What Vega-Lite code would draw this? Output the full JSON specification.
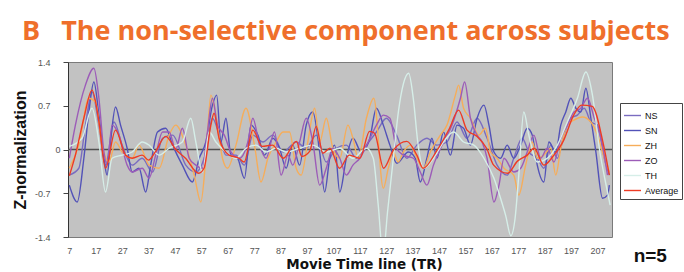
{
"$schema":"https://vega.github.io/schema/vega-lite/v6.json",
"width":544,"height":175,
"autosize":{"type":"none"},
"padding":{"left":68,"top":62,"right":72,"bottom":35},
"background":"white",
"config":{"view":{"fill":"#c2c2c2","stroke":"#7a7a7a","strokeWidth":1},"axisX":{"labelOverlap":false,"labelFlush":false,"labelBound":false,"labelSeparation":0}},
"title":{"text":"B\u00a0\u00a0\u00a0The non-selective component across subjects","anchor":"start","frame":"group","dx":-46,"offset":12,"font":"Open Sans","fontSize":27,"fontWeight":"bold","color":"#ef6f2b"},
"layer":[
{"data":{"values":[{"ref":0}]},"mark":{"type":"rule","color":"#505050","strokeWidth":1.3},"encoding":{"y":{"field":"ref","type":"quantitative","scale":{"domain":[-1.4,1.4],"nice":false,"zero":false},"axis":{"values":[-1.4,-0.7,0,0.7,1.4],"labelExpr":"toString(datum.value)","title":"Z-normalization","titleFont":"Liberation Sans","titleFontSize":16,"titleFontWeight":"bold","titleColor":"#111","titleX":-40,"titleY":87.5,"titleBaseline":"bottom","titleAngle":-90,"labelFont":"Liberation Sans","labelFontSize":9,"labelColor":"#555","labelPadding":{"condition":{"test":"datum.value === 0","value":3},"value":13},"tickSize":5,"tickColor":"#444","domainColor":"#333","grid":false}}}},
{"data":{"values":[
{"t":7,"s":"NS","v":-0.41},{"t":10.6,"s":"NS","v":-0.3},{"t":13.1,"s":"NS","v":0.39},{"t":15.6,"s":"NS","v":0.92},{"t":18.2,"s":"NS","v":0.39},{"t":20.7,"s":"NS","v":-0.25},{"t":23.9,"s":"NS","v":0.44},{"t":27,"s":"NS","v":0.07},{"t":30.8,"s":"NS","v":-0.25},{"t":34.6,"s":"NS","v":-0.14},{"t":38.5,"s":"NS","v":-0.36},{"t":42.3,"s":"NS","v":0.18},{"t":46.1,"s":"NS","v":0.23},{"t":51.1,"s":"NS","v":-0.25},{"t":54.9,"s":"NS","v":-0.36},{"t":58.7,"s":"NS","v":-0.04},{"t":61.2,"s":"NS","v":0.5},{"t":63.8,"s":"NS","v":0.23},{"t":66.3,"s":"NS","v":-0.09},{"t":70.1,"s":"NS","v":-0.09},{"t":73.3,"s":"NS","v":-0.25},{"t":76.5,"s":"NS","v":0.23},{"t":80.3,"s":"NS","v":0.12},{"t":84.1,"s":"NS","v":0.23},{"t":87.9,"s":"NS","v":-0.04},{"t":92.9,"s":"NS","v":0.12},{"t":96.7,"s":"NS","v":0.02},{"t":100.5,"s":"NS","v":0.23},{"t":104.3,"s":"NS","v":-0.2},{"t":108.1,"s":"NS","v":0.02},{"t":111.9,"s":"NS","v":0.07},{"t":115.7,"s":"NS","v":-0.14},{"t":119.5,"s":"NS","v":0.07},{"t":123.3,"s":"NS","v":0.28},{"t":127.1,"s":"NS","v":0.5},{"t":130.9,"s":"NS","v":0.23},{"t":134.8,"s":"NS","v":-0.14},{"t":138.6,"s":"NS","v":0.07},{"t":142.4,"s":"NS","v":0.18},{"t":146.2,"s":"NS","v":0.07},{"t":150,"s":"NS","v":0.12},{"t":153.8,"s":"NS","v":0.44},{"t":157.6,"s":"NS","v":0.18},{"t":161.4,"s":"NS","v":0.5},{"t":165.2,"s":"NS","v":0.18},{"t":169,"s":"NS","v":-0.25},{"t":172.8,"s":"NS","v":-0.41},{"t":175.3,"s":"NS","v":-0.14},{"t":178.5,"s":"NS","v":0.18},{"t":181,"s":"NS","v":-0.04},{"t":184.2,"s":"NS","v":-0.14},{"t":186.7,"s":"NS","v":-0.3},{"t":189.3,"s":"NS","v":0.07},{"t":191.8,"s":"NS","v":-0.14},{"t":194.3,"s":"NS","v":0.23},{"t":196.9,"s":"NS","v":0.5},{"t":199.4,"s":"NS","v":0.55},{"t":202,"s":"NS","v":0.66},{"t":204.5,"s":"NS","v":0.44},{"t":207,"s":"NS","v":0.39},{"t":209.6,"s":"NS","v":-0.14},{"t":211.5,"s":"NS","v":-0.41},
{"t":7,"s":"SN","v":-0.57},{"t":10,"s":"SN","v":-0.84},{"t":12.5,"s":"SN","v":-0.14},{"t":14.4,"s":"SN","v":0.6},{"t":16.3,"s":"SN","v":1.08},{"t":18.2,"s":"SN","v":0.55},{"t":20.1,"s":"SN","v":-0.14},{"t":21.3,"s":"SN","v":-0.41},{"t":22.6,"s":"SN","v":0.12},{"t":24.5,"s":"SN","v":0.68},{"t":26.4,"s":"SN","v":0.39},{"t":28.9,"s":"SN","v":0.02},{"t":30.8,"s":"SN","v":-0.36},{"t":33.4,"s":"SN","v":-0.3},{"t":35.9,"s":"SN","v":-0.68},{"t":37.8,"s":"SN","v":-0.25},{"t":40.4,"s":"SN","v":0.28},{"t":43.5,"s":"SN","v":0.34},{"t":46.1,"s":"SN","v":0.07},{"t":49.8,"s":"SN","v":-0.25},{"t":53.6,"s":"SN","v":-0.52},{"t":56.2,"s":"SN","v":-0.14},{"t":58.7,"s":"SN","v":0.12},{"t":61.2,"s":"SN","v":0.71},{"t":62.8,"s":"SN","v":0.87},{"t":64.4,"s":"SN","v":0.12},{"t":66.3,"s":"SN","v":0.5},{"t":68.2,"s":"SN","v":-0.09},{"t":70.7,"s":"SN","v":-0.14},{"t":73.3,"s":"SN","v":-0.46},{"t":75.8,"s":"SN","v":0.39},{"t":78.4,"s":"SN","v":0.23},{"t":80.9,"s":"SN","v":-0.09},{"t":84.1,"s":"SN","v":0.18},{"t":86.6,"s":"SN","v":0.02},{"t":89.1,"s":"SN","v":-0.3},{"t":91.6,"s":"SN","v":0.07},{"t":94.2,"s":"SN","v":-0.25},{"t":96.7,"s":"SN","v":0.39},{"t":99.2,"s":"SN","v":0.6},{"t":101.8,"s":"SN","v":-0.04},{"t":103.7,"s":"SN","v":-0.68},{"t":105.6,"s":"SN","v":-0.14},{"t":107.5,"s":"SN","v":0.07},{"t":109.4,"s":"SN","v":-0.68},{"t":111.9,"s":"SN","v":-0.14},{"t":114.4,"s":"SN","v":0.18},{"t":117.6,"s":"SN","v":-0.04},{"t":120.8,"s":"SN","v":0.18},{"t":123.3,"s":"SN","v":0.66},{"t":125.9,"s":"SN","v":0.39},{"t":128.4,"s":"SN","v":0.07},{"t":131,"s":"SN","v":-0.22},{"t":135.4,"s":"SN","v":-0.04},{"t":138,"s":"SN","v":-0.14},{"t":139.9,"s":"SN","v":-0.52},{"t":142.4,"s":"SN","v":-0.14},{"t":144.3,"s":"SN","v":0.18},{"t":146.2,"s":"SN","v":-0.14},{"t":148.7,"s":"SN","v":0.28},{"t":151.3,"s":"SN","v":-0.09},{"t":153.8,"s":"SN","v":0.39},{"t":156.3,"s":"SN","v":0.34},{"t":158.9,"s":"SN","v":0.07},{"t":161.4,"s":"SN","v":0.5},{"t":164,"s":"SN","v":0.71},{"t":165.9,"s":"SN","v":0.39},{"t":167.8,"s":"SN","v":-0.04},{"t":170.3,"s":"SN","v":-0.14},{"t":172.8,"s":"SN","v":0.07},{"t":175.3,"s":"SN","v":-0.14},{"t":177.9,"s":"SN","v":0.07},{"t":180.4,"s":"SN","v":0.34},{"t":182.3,"s":"SN","v":0.23},{"t":184.2,"s":"SN","v":-0.25},{"t":186.7,"s":"SN","v":-0.52},{"t":188.6,"s":"SN","v":0.12},{"t":191.2,"s":"SN","v":-0.04},{"t":193.1,"s":"SN","v":0.39},{"t":195,"s":"SN","v":0.6},{"t":196.9,"s":"SN","v":0.82},{"t":198.8,"s":"SN","v":0.66},{"t":200.7,"s":"SN","v":0.6},{"t":202.6,"s":"SN","v":0.98},{"t":204.5,"s":"SN","v":0.5},{"t":206.4,"s":"SN","v":-0.04},{"t":208.9,"s":"SN","v":-0.78},{"t":210.8,"s":"SN","v":-0.73},{"t":211.5,"s":"SN","v":-0.57},
{"t":7,"s":"ZH","v":-0.3},{"t":10.6,"s":"ZH","v":0.07},{"t":14.4,"s":"ZH","v":0.82},{"t":16.9,"s":"ZH","v":0.76},{"t":19.4,"s":"ZH","v":0.07},{"t":22,"s":"ZH","v":-0.2},{"t":24.5,"s":"ZH","v":0.12},{"t":27,"s":"ZH","v":-0.04},{"t":30.8,"s":"ZH","v":-0.14},{"t":33.4,"s":"ZH","v":0.07},{"t":37.2,"s":"ZH","v":-0.25},{"t":41,"s":"ZH","v":-0.3},{"t":44.8,"s":"ZH","v":0.23},{"t":47.3,"s":"ZH","v":0.39},{"t":51.1,"s":"ZH","v":0.07},{"t":54.3,"s":"ZH","v":-0.41},{"t":56.8,"s":"ZH","v":-0.84},{"t":58.7,"s":"ZH","v":-0.14},{"t":60.6,"s":"ZH","v":0.87},{"t":62.5,"s":"ZH","v":0.55},{"t":65,"s":"ZH","v":-0.14},{"t":66.9,"s":"ZH","v":-0.3},{"t":70.1,"s":"ZH","v":0.07},{"t":73.9,"s":"ZH","v":0.66},{"t":77.1,"s":"ZH","v":0.07},{"t":79.6,"s":"ZH","v":-0.52},{"t":82.2,"s":"ZH","v":-0.14},{"t":85.3,"s":"ZH","v":0.12},{"t":87.9,"s":"ZH","v":0.28},{"t":90.4,"s":"ZH","v":0.28},{"t":92.9,"s":"ZH","v":-0.3},{"t":94.8,"s":"ZH","v":-0.41},{"t":97.3,"s":"ZH","v":0.12},{"t":99.9,"s":"ZH","v":0.66},{"t":101.8,"s":"ZH","v":0.12},{"t":104.3,"s":"ZH","v":0.5},{"t":106.8,"s":"ZH","v":0.02},{"t":109.4,"s":"ZH","v":-0.14},{"t":112.5,"s":"ZH","v":0.39},{"t":114.4,"s":"ZH","v":0.18},{"t":116.4,"s":"ZH","v":-0.14},{"t":119.5,"s":"ZH","v":0.5},{"t":122.3,"s":"ZH","v":0.82},{"t":125.9,"s":"ZH","v":-0.62},{"t":127.8,"s":"ZH","v":-0.3},{"t":129.7,"s":"ZH","v":-0.04},{"t":131.5,"s":"ZH","v":-0.2},{"t":133.5,"s":"ZH","v":-0.04},{"t":136.1,"s":"ZH","v":0.07},{"t":138.6,"s":"ZH","v":-0.14},{"t":141.1,"s":"ZH","v":-0.3},{"t":143.7,"s":"ZH","v":-0.04},{"t":147.5,"s":"ZH","v":0.23},{"t":150,"s":"ZH","v":0.39},{"t":153.2,"s":"ZH","v":0.87},{"t":154.4,"s":"ZH","v":1.03},{"t":156.3,"s":"ZH","v":0.66},{"t":158.9,"s":"ZH","v":0.5},{"t":162.1,"s":"ZH","v":0.23},{"t":164.6,"s":"ZH","v":0.34},{"t":166.5,"s":"ZH","v":-0.04},{"t":169,"s":"ZH","v":-0.14},{"t":171.6,"s":"ZH","v":-0.3},{"t":175.3,"s":"ZH","v":-0.41},{"t":177.2,"s":"ZH","v":-0.73},{"t":179.8,"s":"ZH","v":-0.25},{"t":182.3,"s":"ZH","v":0.12},{"t":184.2,"s":"ZH","v":-0.14},{"t":186.7,"s":"ZH","v":-0.09},{"t":189.3,"s":"ZH","v":0.02},{"t":191.2,"s":"ZH","v":-0.41},{"t":193.1,"s":"ZH","v":0.02},{"t":195.6,"s":"ZH","v":0.39},{"t":198.1,"s":"ZH","v":0.47},{"t":201.3,"s":"ZH","v":0.52},{"t":204.5,"s":"ZH","v":0.44},{"t":207,"s":"ZH","v":0.23},{"t":209.6,"s":"ZH","v":-0.14},{"t":211.5,"s":"ZH","v":-0.36},
{"t":7,"s":"ZO","v":-0.14},{"t":9.3,"s":"ZO","v":0.39},{"t":13.1,"s":"ZO","v":1.03},{"t":16.3,"s":"ZO","v":1.3},{"t":18.2,"s":"ZO","v":0.82},{"t":20.1,"s":"ZO","v":-0.04},{"t":21.3,"s":"ZO","v":-0.25},{"t":23.2,"s":"ZO","v":0.39},{"t":25.8,"s":"ZO","v":0.23},{"t":28.9,"s":"ZO","v":-0.25},{"t":30.8,"s":"ZO","v":-0.36},{"t":34.6,"s":"ZO","v":-0.3},{"t":37.2,"s":"ZO","v":-0.46},{"t":39.7,"s":"ZO","v":-0.09},{"t":42.3,"s":"ZO","v":0.28},{"t":44.8,"s":"ZO","v":0.28},{"t":47.3,"s":"ZO","v":0},{"t":49.8,"s":"ZO","v":0.34},{"t":52.4,"s":"ZO","v":-0.14},{"t":54.9,"s":"ZO","v":-0.25},{"t":57.4,"s":"ZO","v":-0.3},{"t":59.3,"s":"ZO","v":0.28},{"t":61.2,"s":"ZO","v":0.82},{"t":63.1,"s":"ZO","v":0.39},{"t":65.7,"s":"ZO","v":0.23},{"t":68.2,"s":"ZO","v":-0.04},{"t":71.4,"s":"ZO","v":-0.14},{"t":74.6,"s":"ZO","v":0.12},{"t":76.5,"s":"ZO","v":0.5},{"t":79,"s":"ZO","v":0.07},{"t":81.5,"s":"ZO","v":-0.14},{"t":84.7,"s":"ZO","v":0.28},{"t":87.2,"s":"ZO","v":-0.41},{"t":89.8,"s":"ZO","v":-0.09},{"t":91.6,"s":"ZO","v":-0.25},{"t":94.2,"s":"ZO","v":0.12},{"t":96.7,"s":"ZO","v":0.5},{"t":99.2,"s":"ZO","v":0.12},{"t":101.8,"s":"ZO","v":-0.57},{"t":104.3,"s":"ZO","v":-0.3},{"t":106.8,"s":"ZO","v":0.02},{"t":109.4,"s":"ZO","v":-0.14},{"t":111.9,"s":"ZO","v":-0.41},{"t":114.4,"s":"ZO","v":-0.25},{"t":117,"s":"ZO","v":-0.14},{"t":120.2,"s":"ZO","v":0.12},{"t":123.3,"s":"ZO","v":0.39},{"t":125.9,"s":"ZO","v":0.55},{"t":128.4,"s":"ZO","v":0.5},{"t":130.9,"s":"ZO","v":0.02},{"t":133.5,"s":"ZO","v":-0.09},{"t":137.3,"s":"ZO","v":-0.14},{"t":139.9,"s":"ZO","v":-0.36},{"t":142.4,"s":"ZO","v":-0.57},{"t":144.9,"s":"ZO","v":-0.25},{"t":148.7,"s":"ZO","v":0.12},{"t":151.9,"s":"ZO","v":0.39},{"t":155.1,"s":"ZO","v":0.82},{"t":156.7,"s":"ZO","v":1.08},{"t":158.9,"s":"ZO","v":0.5},{"t":161.4,"s":"ZO","v":0.23},{"t":163.3,"s":"ZO","v":0.12},{"t":165.2,"s":"ZO","v":-0.14},{"t":167.8,"s":"ZO","v":-0.84},{"t":169.7,"s":"ZO","v":-0.57},{"t":171.6,"s":"ZO","v":-0.14},{"t":175.3,"s":"ZO","v":-0.36},{"t":177.9,"s":"ZO","v":-0.3},{"t":180.4,"s":"ZO","v":-0.04},{"t":182.9,"s":"ZO","v":0.23},{"t":185.5,"s":"ZO","v":-0.14},{"t":188,"s":"ZO","v":0.02},{"t":190.5,"s":"ZO","v":-0.2},{"t":193.1,"s":"ZO","v":0.18},{"t":195.6,"s":"ZO","v":0.39},{"t":198.1,"s":"ZO","v":0.6},{"t":200.7,"s":"ZO","v":0.66},{"t":203.2,"s":"ZO","v":0.82},{"t":205.8,"s":"ZO","v":0.5},{"t":208.3,"s":"ZO","v":0.18},{"t":210.8,"s":"ZO","v":-0.41},
{"t":7,"s":"TH","v":0.05},{"t":11.8,"s":"TH","v":0.18},{"t":15.6,"s":"TH","v":0.66},{"t":18.2,"s":"TH","v":0.12},{"t":20.7,"s":"TH","v":-0.68},{"t":23.2,"s":"TH","v":-0.14},{"t":27,"s":"TH","v":-0.09},{"t":30.8,"s":"TH","v":-0.04},{"t":34.6,"s":"TH","v":0.12},{"t":37.2,"s":"TH","v":0.07},{"t":41,"s":"TH","v":-0.09},{"t":44.8,"s":"TH","v":0.02},{"t":49.8,"s":"TH","v":0.12},{"t":53,"s":"TH","v":0.5},{"t":54.9,"s":"TH","v":0.12},{"t":57.4,"s":"TH","v":-0.36},{"t":60,"s":"TH","v":0.28},{"t":62.5,"s":"TH","v":0.12},{"t":66.3,"s":"TH","v":-0.04},{"t":70.1,"s":"TH","v":-0.14},{"t":73.9,"s":"TH","v":0.02},{"t":77.7,"s":"TH","v":0.07},{"t":81.5,"s":"TH","v":-0.04},{"t":85.3,"s":"TH","v":0.02},{"t":89.1,"s":"TH","v":-0.04},{"t":94.2,"s":"TH","v":0.02},{"t":99.2,"s":"TH","v":0.07},{"t":104.3,"s":"TH","v":-0.04},{"t":109.4,"s":"TH","v":0.02},{"t":114.4,"s":"TH","v":-0.14},{"t":119.5,"s":"TH","v":0.02},{"t":122.1,"s":"TH","v":-0.14},{"t":124,"s":"TH","v":-0.9},{"t":125.8,"s":"TH","v":-1.7},{"t":127.5,"s":"TH","v":-1.0},{"t":129.7,"s":"TH","v":-0.14},{"t":131.6,"s":"TH","v":0.6},{"t":133.5,"s":"TH","v":1.05},{"t":135.5,"s":"TH","v":1.22},{"t":137.3,"s":"TH","v":0.8},{"t":139,"s":"TH","v":0.1},{"t":141.1,"s":"TH","v":-0.3},{"t":144.9,"s":"TH","v":-0.14},{"t":148.7,"s":"TH","v":0.12},{"t":152.5,"s":"TH","v":0.28},{"t":156.3,"s":"TH","v":0.12},{"t":160.2,"s":"TH","v":0.07},{"t":164,"s":"TH","v":-0.14},{"t":167.8,"s":"TH","v":-0.46},{"t":170.3,"s":"TH","v":-0.78},{"t":172.2,"s":"TH","v":-1.05},{"t":174.2,"s":"TH","v":-1.38},{"t":175.8,"s":"TH","v":-1.1},{"t":177.2,"s":"TH","v":-0.41},{"t":179.1,"s":"TH","v":0.6},{"t":181,"s":"TH","v":0.23},{"t":184.2,"s":"TH","v":-0.2},{"t":188,"s":"TH","v":-0.14},{"t":191.8,"s":"TH","v":0.07},{"t":195.6,"s":"TH","v":0.44},{"t":199.4,"s":"TH","v":0.82},{"t":202.6,"s":"TH","v":1.24},{"t":205.1,"s":"TH","v":0.87},{"t":207.7,"s":"TH","v":0.02},{"t":210.8,"s":"TH","v":-0.68},{"t":211.8,"s":"TH","v":-0.89},
{"t":7,"s":"Average","v":-0.42},{"t":9.3,"s":"Average","v":-0.09},{"t":12.5,"s":"Average","v":0.5},{"t":15.6,"s":"Average","v":0.95},{"t":18.2,"s":"Average","v":0.45},{"t":20.7,"s":"Average","v":-0.3},{"t":24.5,"s":"Average","v":0.31},{"t":28.3,"s":"Average","v":-0.09},{"t":30.8,"s":"Average","v":-0.14},{"t":34.6,"s":"Average","v":-0.09},{"t":37,"s":"Average","v":-0.17},{"t":39.7,"s":"Average","v":-0.03},{"t":43.5,"s":"Average","v":0.21},{"t":47.3,"s":"Average","v":0},{"t":51,"s":"Average","v":-0.14},{"t":56,"s":"Average","v":-0.38},{"t":58,"s":"Average","v":-0.3},{"t":60.6,"s":"Average","v":0.39},{"t":61.8,"s":"Average","v":0.58},{"t":63.7,"s":"Average","v":0.18},{"t":67.5,"s":"Average","v":-0.09},{"t":71.3,"s":"Average","v":-0.14},{"t":73.2,"s":"Average","v":-0.2},{"t":76.5,"s":"Average","v":0.31},{"t":80,"s":"Average","v":0.05},{"t":84,"s":"Average","v":0.07},{"t":88,"s":"Average","v":-0.14},{"t":93,"s":"Average","v":0.13},{"t":95,"s":"Average","v":-0.11},{"t":98,"s":"Average","v":-0.03},{"t":100.5,"s":"Average","v":0.37},{"t":103,"s":"Average","v":-0.06},{"t":105.7,"s":"Average","v":0.02},{"t":109.3,"s":"Average","v":-0.3},{"t":113,"s":"Average","v":-0.09},{"t":117,"s":"Average","v":-0.14},{"t":120.7,"s":"Average","v":0.29},{"t":122.6,"s":"Average","v":0.26},{"t":126,"s":"Average","v":-0.3},{"t":129.7,"s":"Average","v":-0.01},{"t":134.8,"s":"Average","v":0.13},{"t":138.6,"s":"Average","v":-0.09},{"t":141,"s":"Average","v":-0.3},{"t":146,"s":"Average","v":-0.03},{"t":151,"s":"Average","v":0.34},{"t":154.4,"s":"Average","v":0.63},{"t":157.6,"s":"Average","v":0.31},{"t":161.4,"s":"Average","v":0.21},{"t":165,"s":"Average","v":0.02},{"t":167.7,"s":"Average","v":-0.25},{"t":173,"s":"Average","v":-0.38},{"t":176.6,"s":"Average","v":-0.19},{"t":180.4,"s":"Average","v":-0.09},{"t":183,"s":"Average","v":0.02},{"t":186.7,"s":"Average","v":-0.25},{"t":190.5,"s":"Average","v":-0.09},{"t":194,"s":"Average","v":0.13},{"t":198,"s":"Average","v":0.55},{"t":201,"s":"Average","v":0.71},{"t":205,"s":"Average","v":0.69},{"t":209,"s":"Average","v":0.13},{"t":211.5,"s":"Average","v":-0.41}
]},
"mark":{"type":"line","interpolate":"monotone","clip":true},
"encoding":{
"x":{"field":"t","type":"quantitative","scale":{"domain":[6.5,212.5],"nice":false,"zero":false},
"axis":{"values":[7,17,27,37,47,57,67,77,87,97,107,117,127,137,147,157,167,177,187,197,207],"title":"Movie Time line (TR)","titleFont":"DejaVu Sans","titleFontSize":13.5,"titleFontWeight":"bold","titleColor":"#111","titleX":296,"titleY":20,"titleBaseline":"top","labelFont":"Liberation Sans","labelFontSize":9,"labelColor":"#555","labelPadding":9,"ticks":false,"domain":false,"grid":false,"labelFlush":false,"labelOverlap":false,"labelSeparation":0}},
"y":{"field":"v","type":"quantitative","scale":{"domain":[-1.4,1.4],"nice":false,"zero":false},
"axis":{"values":[-1.4,-0.7,0,0.7,1.4],"labelExpr":"toString(datum.value)","title":"Z-normalization","titleFont":"Liberation Sans","titleFontSize":16,"titleFontWeight":"bold","titleColor":"#111","titleX":-40,"titleY":87.5,"titleBaseline":"bottom","titleAngle":-90,"labelFont":"Liberation Sans","labelFontSize":9,"labelColor":"#555","labelPadding":{"condition":{"test":"datum.value === 0","value":3},"value":13},"tickSize":5,"tickColor":"#444","domainColor":"#333","grid":false}},
"color":{"field":"s","type":"nominal","scale":{"domain":["NS","SN","ZH","ZO","TH","Average"],"range":["#7a6cc0","#5252b8","#f6ad5a","#9c5cb8","#d6eee8","#ee3b24"]},
"legend":{"orient":"none","legendX":552,"legendY":41,"title":null,"strokeColor":"#444","fillColor":"white","padding":3,"symbolType":"stroke","symbolSize":289,"labelFont":"Liberation Sans","labelFontSize":9,"labelColor":"#111","rowPadding":-2,"labelOffset":3}},
"strokeWidth":{"field":"s","type":"nominal","scale":{"domain":["NS","SN","ZH","ZO","TH","Average"],"range":[1.4,1.4,1.4,1.4,1.4,2.8]},
"legend":{"orient":"none","legendX":552,"legendY":41,"title":null,"strokeColor":"#444","fillColor":"white","padding":3,"symbolType":"stroke","symbolSize":289,"labelFont":"Liberation Sans","labelFontSize":9,"labelColor":"#111","rowPadding":-2,"labelOffset":3}}
}},
{"data":{"values":[{"label":"n=5"}]},"mark":{"type":"text","font":"Liberation Sans","fontSize":19,"fontWeight":"bold","color":"#111","baseline":"middle","align":"center"},"encoding":{"text":{"field":"label"},"x":{"datum":227,"type":"quantitative","scale":{"domain":[6.5,212.5],"nice":false,"zero":false},"axis":{"values":[7,17,27,37,47,57,67,77,87,97,107,117,127,137,147,157,167,177,187,197,207],"title":"Movie Time line (TR)","titleFont":"DejaVu Sans","titleFontSize":13.5,"titleFontWeight":"bold","titleColor":"#111","titleX":296,"titleY":20,"titleBaseline":"top","labelFont":"Liberation Sans","labelFontSize":9,"labelColor":"#555","labelPadding":9,"ticks":false,"domain":false,"grid":false,"labelFlush":false,"labelOverlap":false,"labelSeparation":0}},"y":{"datum":-1.7,"type":"quantitative"}}}
]
}
